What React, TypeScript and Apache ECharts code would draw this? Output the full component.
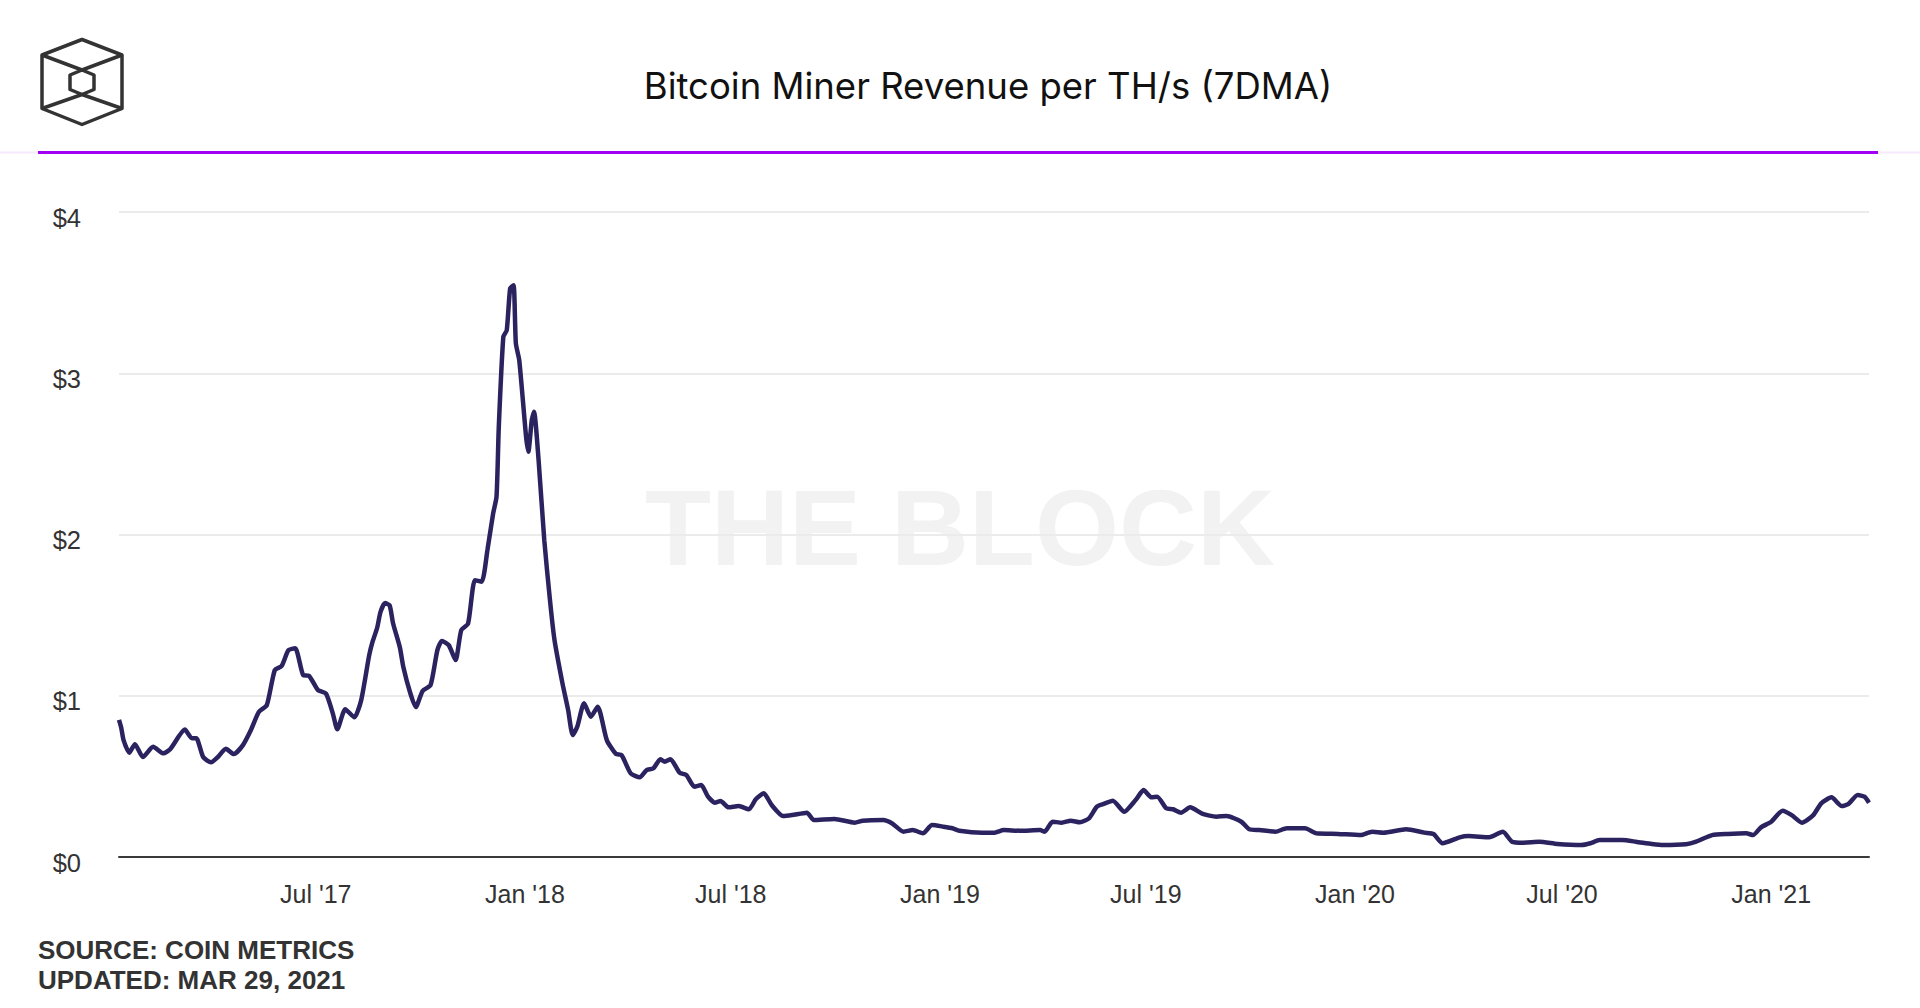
import React, { useEffect, useRef } from "react";
import * as echarts from "echarts";

const TITLE = "Bitcoin Miner Revenue per TH/s (7DMA)";
const SOURCE_LINES = ["SOURCE: COIN METRICS", "UPDATED: MAR 29, 2021"];
const WATERMARK = "THE BLOCK";

// Miner revenue per TH/s (USD, 7-day moving average)
const rev2017: [string, number][] = [
  ["2017-01-09", 0.85], ["2017-01-11", 0.8], ["2017-01-13", 0.725], ["2017-01-18", 0.647], ["2017-01-23", 0.7], ["2017-01-30", 0.62],
  ["2017-02-08", 0.684], ["2017-02-17", 0.643], ["2017-02-23", 0.668],
  ["2017-03-08", 0.79], ["2017-03-14", 0.736], ["2017-03-18", 0.736], ["2017-03-24", 0.62], ["2017-03-31", 0.587],
  ["2017-04-06", 0.62], ["2017-04-13", 0.671], ["2017-04-20", 0.638], ["2017-04-28", 0.694],
  ["2017-05-05", 0.787], ["2017-05-12", 0.9], ["2017-05-19", 0.942], ["2017-05-26", 1.159],
  ["2017-06-01", 1.184], ["2017-06-07", 1.283], ["2017-06-13", 1.294], ["2017-06-20", 1.128], ["2017-06-25", 1.124],
  ["2017-07-03", 1.035], ["2017-07-10", 1.014], ["2017-07-16", 0.891], ["2017-07-20", 0.792], ["2017-07-27", 0.916],
  ["2017-08-04", 0.866], ["2017-08-10", 0.973], ["2017-08-17", 1.25], ["2017-08-20", 1.335], ["2017-08-24", 1.42], ["2017-08-27", 1.52], ["2017-08-31", 1.575],
  ["2017-09-04", 1.56], ["2017-09-07", 1.45], ["2017-09-13", 1.3], ["2017-09-16", 1.18], ["2017-09-22", 1.02], ["2017-09-27", 0.93],
  ["2017-10-03", 1.03], ["2017-10-10", 1.066], ["2017-10-16", 1.283], ["2017-10-20", 1.34], ["2017-10-26", 1.314],
  ["2017-11-01", 1.221], ["2017-11-06", 1.407], ["2017-11-12", 1.448], ["2017-11-18", 1.717], ["2017-11-24", 1.707], ["2017-11-29", 1.903],
  ["2017-12-04", 2.13], ["2017-12-07", 2.234], ["2017-12-09", 2.668], ["2017-12-13", 3.226], ["2017-12-16", 3.267], ["2017-12-19", 3.526], ["2017-12-22", 3.546], ["2017-12-24", 3.185], ["2017-12-27", 3.081],
];

const rev2018: [string, number][] = [
  ["2018-01-02", 2.606], ["2018-01-04", 2.513], ["2018-01-07", 2.709], ["2018-01-09", 2.761], ["2018-01-13", 2.461], ["2018-01-18", 1.965], ["2018-01-23", 1.593], ["2018-01-27", 1.345],
  ["2018-02-03", 1.077], ["2018-02-08", 0.911], ["2018-02-12", 0.756], ["2018-02-16", 0.808], ["2018-02-22", 0.953], ["2018-02-28", 0.87],
  ["2018-03-06", 0.932], ["2018-03-14", 0.725], ["2018-03-22", 0.639], ["2018-03-27", 0.632],
  ["2018-04-04", 0.519], ["2018-04-12", 0.494], ["2018-04-18", 0.539], ["2018-04-24", 0.55], ["2018-04-30", 0.606],
  ["2018-05-04", 0.591], ["2018-05-09", 0.606], ["2018-05-17", 0.523], ["2018-05-23", 0.508], ["2018-05-30", 0.436],
  ["2018-06-05", 0.446], ["2018-06-11", 0.374], ["2018-06-17", 0.337], ["2018-06-22", 0.347], ["2018-06-29", 0.308],
  ["2018-07-08", 0.316], ["2018-07-17", 0.296], ["2018-07-23", 0.358], ["2018-07-30", 0.395],
  ["2018-08-06", 0.322], ["2018-08-16", 0.254], ["2018-08-24", 0.26],
  ["2018-09-06", 0.275], ["2018-09-12", 0.229], ["2018-09-30", 0.236],
  ["2018-10-18", 0.213], ["2018-10-25", 0.225],
  ["2018-11-12", 0.229], ["2018-11-20", 0.208], ["2018-11-30", 0.157],
  ["2018-12-08", 0.167], ["2018-12-17", 0.147], ["2018-12-25", 0.198],
];

const rev2019: [string, number][] = [
  ["2019-01-04", 0.188], ["2019-01-12", 0.178], ["2019-01-18", 0.163],
  ["2019-02-07", 0.151], ["2019-02-18", 0.151], ["2019-02-26", 0.167],
  ["2019-03-12", 0.163], ["2019-03-30", 0.167],
  ["2019-04-03", 0.157], ["2019-04-10", 0.219], ["2019-04-18", 0.213], ["2019-04-26", 0.225],
  ["2019-05-04", 0.215], ["2019-05-12", 0.24], ["2019-05-19", 0.312], ["2019-05-25", 0.329],
  ["2019-06-02", 0.349], ["2019-06-12", 0.281], ["2019-06-22", 0.353], ["2019-06-29", 0.415],
  ["2019-07-06", 0.37], ["2019-07-11", 0.374], ["2019-07-19", 0.302], ["2019-07-25", 0.296],
  ["2019-08-01", 0.275], ["2019-08-09", 0.308], ["2019-08-20", 0.267],
  ["2019-09-01", 0.25], ["2019-09-10", 0.254], ["2019-09-23", 0.219], ["2019-09-30", 0.172],
  ["2019-10-09", 0.167], ["2019-10-23", 0.157],
  ["2019-11-02", 0.178], ["2019-11-18", 0.178], ["2019-11-28", 0.147],
  ["2019-12-17", 0.143],
];

const rev2020: [string, number][] = [
  ["2020-01-06", 0.136], ["2020-01-16", 0.157], ["2020-01-26", 0.151],
  ["2020-02-15", 0.172],
  ["2020-03-02", 0.151], ["2020-03-10", 0.143], ["2020-03-18", 0.085],
  ["2020-04-02", 0.122], ["2020-04-10", 0.13], ["2020-04-28", 0.122],
  ["2020-05-10", 0.157], ["2020-05-18", 0.095], ["2020-05-28", 0.089],
  ["2020-06-11", 0.095], ["2020-06-27", 0.081],
  ["2020-07-18", 0.074], ["2020-07-26", 0.085],
  ["2020-08-03", 0.105], ["2020-08-23", 0.105],
  ["2020-09-04", 0.095], ["2020-09-18", 0.081], ["2020-09-28", 0.074],
  ["2020-10-18", 0.079], ["2020-10-27", 0.095],
  ["2020-11-10", 0.136], ["2020-11-24", 0.143],
  ["2020-12-10", 0.147], ["2020-12-16", 0.136], ["2020-12-23", 0.184],
];

const rev2021: [string, number][] = [
  ["2021-01-01", 0.219], ["2021-01-11", 0.287], ["2021-01-19", 0.26], ["2021-01-28", 0.213],
  ["2021-02-07", 0.26], ["2021-02-14", 0.333], ["2021-02-23", 0.37],
  ["2021-03-04", 0.316], ["2021-03-10", 0.329], ["2021-03-18", 0.384], ["2021-03-24", 0.374], ["2021-03-28", 0.337],
];

const X_MIN = "2017-01-09";
const X_MAX = "2021-03-28";
const xTickDates = ["2017-07-01", "2018-01-01", "2018-07-01", "2019-01-01", "2019-07-01", "2020-01-01", "2020-07-01", "2021-01-01"];
const xTickLabels = ["Jul '17", "Jan '18", "Jul '18", "Jan '19", "Jul '19", "Jan '20", "Jul '20", "Jan '21"];
const Y_MIN = 0;
const Y_MAX = 4;
const Y_STEP = 1;

function toTime(s: string): number {
  const [y, m, d] = s.split("-").map(Number);
  return Date.UTC(y, m - 1, d);
}

const LABEL_FONT = "'Liberation Sans', Arial, Helvetica, sans-serif";

export default function App() {
  const ref = useRef<HTMLDivElement>(null);

  useEffect(() => {
    document.body.style.margin = "0";
    if (!ref.current) return;
    const chart = echarts.init(ref.current, null, { renderer: "svg" });

    const all = [...rev2017, ...rev2018, ...rev2019, ...rev2020, ...rev2021];
    const data = all.map(([d, v]) => [toTime(d), v]);
    const tickTimes = xTickDates.map(toTime);
    const labelMap = new Map<number, string>();
    tickTimes.forEach((t, i) => labelMap.set(t, xTickLabels[i]));

    const stroke = "#333333";
    const lw = 3.5;

    chart.setOption({
      animation: false,
      backgroundColor: "#ffffff",
      grid: { left: 119, right: 51, top: 212, bottom: 151, containLabel: false },
      xAxis: {
        type: "value",
        min: toTime(X_MIN),
        max: toTime(X_MAX),
        axisLine: { show: true, lineStyle: { color: "#3a3a3a", width: 2 } },
        axisTick: { show: false },
        splitLine: { show: false },
        axisLabel: {
          customValues: tickTimes,
          formatter: (v: number) => {
            let best = "";
            let bd = Infinity;
            labelMap.forEach((lab, t) => {
              const dd = Math.abs(t - v);
              if (dd < bd) { bd = dd; best = lab; }
            });
            return bd < 86400000 ? best : "";
          },
          color: "#333333",
          fontSize: 25,
          fontFamily: LABEL_FONT,
          margin: 24,
          hideOverlap: false,
        },
      },
      yAxis: {
        type: "value",
        min: Y_MIN,
        max: Y_MAX,
        interval: Y_STEP,
        axisLine: { show: false },
        axisTick: { show: false },
        splitLine: { show: true, lineStyle: { color: "#ebebeb", width: 2 } },
        axisLabel: {
          formatter: (v: number) => "$" + v,
          color: "#333333",
          fontSize: 25.5,
          fontFamily: LABEL_FONT,
          margin: 38,
          verticalAlign: "top",
          lineHeight: 11,
        },
      },
      series: [
        {
          type: "line",
          data,
          symbol: "none",
          showSymbol: false,
          smooth: 0.2,
          lineStyle: { color: "#2b2360", width: 4.5 },
          z: 5,
        },
      ],
      graphic: [
        {
          type: "text",
          x: 960,
          y: 527,
          z: -10,
          silent: true,
          style: {
            text: WATERMARK,
            fontSize: 108,
            fontWeight: "bold",
            fontFamily: LABEL_FONT,
            fill: "#f2f2f2",
            align: "center",
            verticalAlign: "middle",
          },
        },
        {
          type: "line",
          shape: { x1: 0, y1: 152.5, x2: 1920, y2: 152.5 },
          style: { stroke: "#f4eafb", lineWidth: 2 },
        },
        {
          type: "line",
          shape: { x1: 38, y1: 152.5, x2: 1878, y2: 152.5 },
          style: { stroke: "#a100f2", lineWidth: 3 },
        },
        {
          type: "text",
          x: 988,
          y: 86,
          style: {
            text: TITLE,
            fontSize: 36.5,
            fontFamily: "Inter, 'Noto Sans', sans-serif",
            fill: "#111111",
            align: "center",
            verticalAlign: "middle",
          },
        },
        {
          type: "text",
          x: 38,
          y: 950,
          style: {
            text: SOURCE_LINES[0],
            fontSize: 26,
            fontWeight: "bold",
            fontFamily: LABEL_FONT,
            fill: "#333333",
            align: "left",
            verticalAlign: "middle",
          },
        },
        {
          type: "text",
          x: 38,
          y: 980,
          style: {
            text: SOURCE_LINES[1],
            fontSize: 26,
            fontWeight: "bold",
            fontFamily: LABEL_FONT,
            fill: "#333333",
            align: "left",
            verticalAlign: "middle",
          },
        },
        {
          type: "group",
          children: [
            {
              type: "polygon",
              shape: { points: [[82, 39.5], [122, 55], [122, 108.5], [82, 124.5], [42, 108.5], [42, 55]] },
              style: { stroke, fill: "none", lineWidth: lw, lineJoin: "round" },
            },
            {
              type: "polyline",
              shape: { points: [[42, 55], [82, 70], [122, 55]] },
              style: { stroke, fill: "none", lineWidth: lw, lineJoin: "round" },
            },
            {
              type: "polyline",
              shape: { points: [[42, 108.5], [82, 94.5], [122, 108.5]] },
              style: { stroke, fill: "none", lineWidth: lw, lineJoin: "round" },
            },
            {
              type: "polygon",
              shape: { points: [[82, 70], [94, 75], [94, 89.5], [82, 94.5], [70, 89.5], [70, 75]] },
              style: { stroke, fill: "none", lineWidth: lw, lineJoin: "round" },
            },
          ],
        },
      ],
    });

    return () => chart.dispose();
  }, []);

  return <div ref={ref} style={{ width: 1920, height: 1008 }} />;
}
